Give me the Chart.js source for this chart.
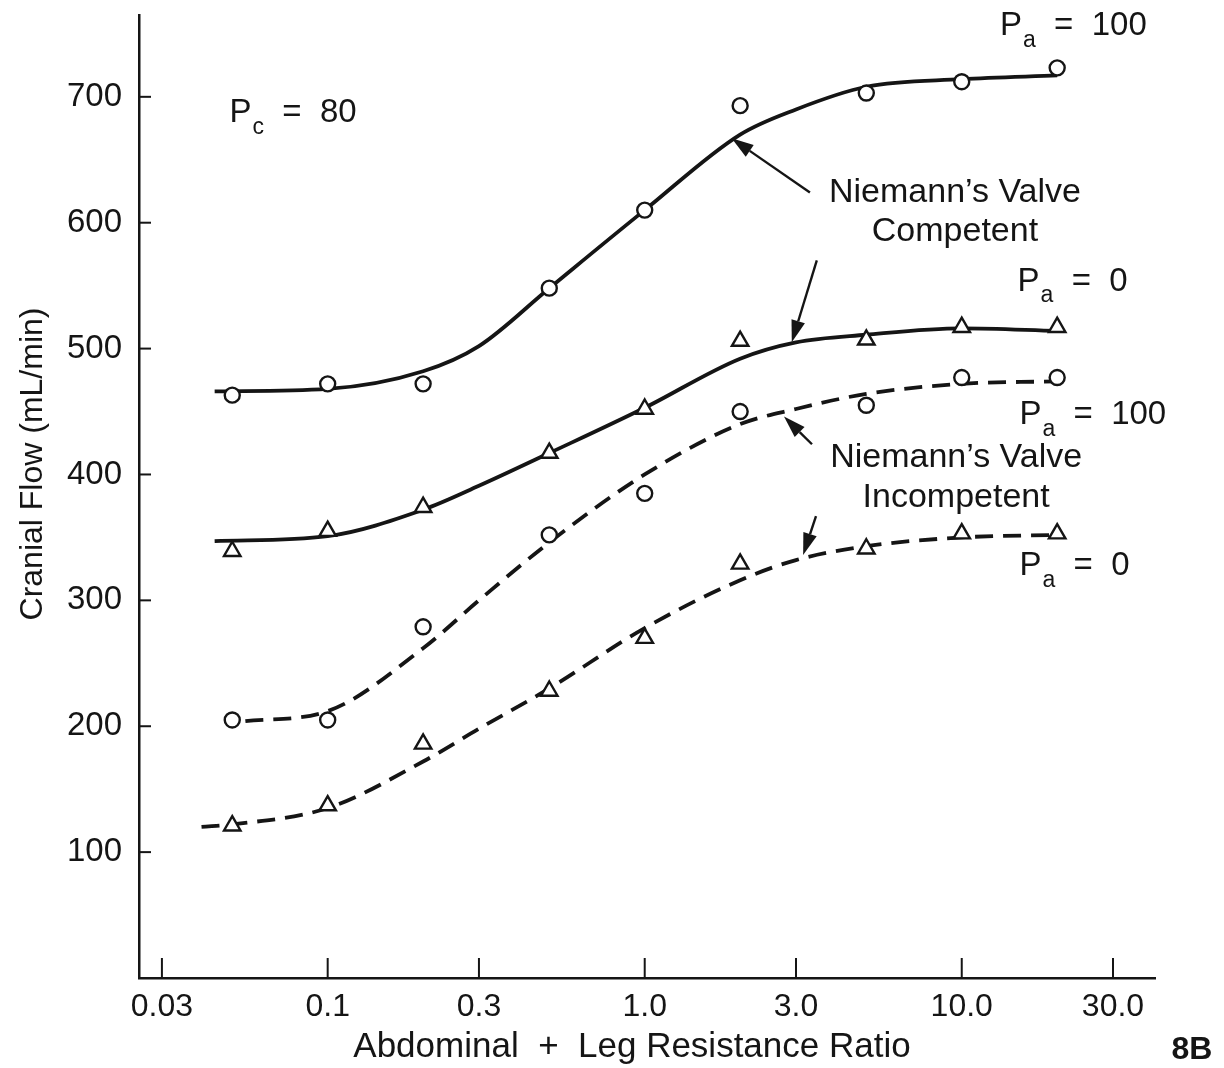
<!DOCTYPE html>
<html>
<head>
<meta charset="utf-8">
<script src="https://cdn.jsdelivr.net/npm/chart.js@4.4.0/dist/chart.umd.min.js"></script>
<style>
  html, body { margin: 0; padding: 0; background: #fff; }
  #wrap { width: 1224px; height: 1068px; }
</style>
</head>
<body>
<div id="wrap"><canvas id="chart" width="1224" height="1068"></canvas></div>
<script>
const ratios = [0.05, 0.1, 0.2, 0.5, 1.0, 2.0, 5.0, 10.0, 20.0];

const competentPa100   = [463, 472, 472, 548, 610, 693, 703, 712, 723];
const competentPa0     = [339, 355, 374, 417, 452, 506, 507, 517, 517];
const incompetentPa100 = [205, 205, 279, 352, 385, 450, 455, 477, 477];
const incompetentPa0   = [121, 137, 186, 228, 270, 329, 341, 353, 353];

// --- Hand-drawn fit curves, read at these ratios ---
const fitRatiosA = [0.044, 0.1, 0.2, 0.3, 0.5, 1.0, 2.0, 3.0, 5.0, 10.0, 20.0];
const fitCompetentPa100 = [466, 468, 482, 502, 548, 610, 670, 690, 708, 714, 717];
const fitCompetentPa0   = [347, 351, 372, 391, 417, 453, 492, 505, 511, 516, 514];

const fitRatiosC = [0.055, 0.1, 0.2, 0.3, 0.5, 1.0, 2.0, 3.0, 5.0, 10.0, 20.0];
const fitIncompetentPa100 = [204, 212, 262, 300, 346, 400, 440, 452, 464, 472, 474];

const fitRatiosD = [0.04, 0.05, 0.1, 0.2, 0.3, 0.5, 1.0, 2.0, 3.0, 5.0, 10.0, 20.0];
const fitIncompetentPa0 = [120, 122, 135, 172, 198, 230, 278, 316, 332, 343, 350, 352];

// --- Axes ---
const xTicks      = [0.03, 0.1, 0.3, 1, 3, 10, 30];
const xTickLabels = ["0.03", "0.1", "0.3", "1.0", "3.0", "10.0", "30.0"];
const yTicks      = [100, 200, 300, 400, 500, 600, 700];
const xTitle = "Abdominal  +  Leg Resistance Ratio";
const yTitle = "Cranial Flow (mL/min)";

const ink  = "#151515";
const face = '"Liberation Sans", Arial, sans-serif';

const toXY = (xs, ys) => xs.map((x, i) => ({ x, y: ys[i] }));

function markers(ys, style) {
  const tri = style === "triangle";
  return {
    data: toXY(ratios, ys),
    showLine: false,
    pointStyle: style,
    pointRadius: tri ? 9.5 : 7.5,
    pointBackgroundColor: "#fff",
    pointBorderColor: ink,
    pointBorderWidth: 2.4,
  };
}

function curve(xs, ys, dashed) {
  return {
    data: toXY(xs, ys),
    showLine: true,
    pointRadius: 0,
    borderColor: ink,
    borderWidth: 3.8,
    borderDash: dashed ? [18, 10] : [],
    cubicInterpolationMode: "monotone",
  };
}

// --- Annotation helpers ---
function pLabel(ctx, x, y, sub, rest) {
  ctx.textBaseline = "middle";
  ctx.textAlign = "left";
  ctx.font = `33px ${face}`;
  ctx.fillText("P", x, y);
  let w = ctx.measureText("P").width;
  ctx.font = `23px ${face}`;
  ctx.fillText(sub, x + w + 1, y + 14);
  w += ctx.measureText(sub).width + 1;
  ctx.font = `33px ${face}`;
  ctx.fillText(rest, x + w, y);
}

function arrow(ctx, x1, y1, x2, y2) {
  const ang = Math.atan2(y2 - y1, x2 - x1);
  const len = 22, half = 7;
  const bx = x2 - len * Math.cos(ang), by = y2 - len * Math.sin(ang);
  ctx.lineWidth = 2.4;
  ctx.beginPath();
  ctx.moveTo(x1, y1);
  ctx.lineTo(bx, by);
  ctx.stroke();
  ctx.beginPath();
  ctx.moveTo(x2, y2);
  ctx.lineTo(bx + half * Math.sin(ang), by - half * Math.cos(ang));
  ctx.lineTo(bx - half * Math.sin(ang), by + half * Math.cos(ang));
  ctx.closePath();
  ctx.fill();
}

const figureDecor = {
  id: "figureDecor",
  afterDraw(chart) {
    const { ctx, chartArea: a, scales: { x, y } } = chart;
    const px = v => x.getPixelForValue(v);
    const py = v => y.getPixelForValue(v);
    ctx.save();
    ctx.strokeStyle = ink;
    ctx.fillStyle = ink;

    // inward tick marks
    ctx.lineWidth = 2;
    xTicks.forEach(v => {
      ctx.beginPath();
      ctx.moveTo(px(v), a.bottom);
      ctx.lineTo(px(v), a.bottom - 20);
      ctx.stroke();
    });
    yTicks.forEach(v => {
      ctx.beginPath();
      ctx.moveTo(a.left, py(v));
      ctx.lineTo(a.left + 12, py(v));
      ctx.stroke();
    });

    // axis titles (sit off-centre in the original)
    ctx.textAlign = "center";
    ctx.textBaseline = "middle";
    ctx.font = `35px ${face}`;
    ctx.fillText(xTitle, 632, 1047);
    ctx.save();
    ctx.translate(33, 464);
    ctx.rotate(-Math.PI / 2);
    ctx.font = `32px ${face}`;
    ctx.fillText(yTitle, 0, 0);
    ctx.restore();

    // pressure labels
    pLabel(ctx, px(0.049), py(687), "c", "  =  80");
    pLabel(ctx, px(13.2), py(756), "a", "  =  100");
    pLabel(ctx, px(15.0), py(553), "a", "  =  0");
    pLabel(ctx, px(15.2), py(447), "a", "  =  100");
    pLabel(ctx, px(15.2), py(327), "a", "  =  0");

    // valve captions
    ctx.font = `34px ${face}`;
    ctx.textAlign = "center";
    ctx.textBaseline = "middle";
    ctx.fillText("Niemann\u2019s Valve", px(9.52), py(624));
    ctx.fillText("Competent", px(9.52), py(593));
    ctx.fillText("Niemann\u2019s Valve", px(9.6), py(413));
    ctx.fillText("Incompetent", px(9.6), py(382));

    // arrows
    arrow(ctx, px(3.32), py(624), px(1.88), py(667));
    arrow(ctx, px(3.49), py(570), px(2.91), py(505));
    arrow(ctx, px(3.37), py(424), px(2.75), py(446));
    arrow(ctx, px(3.47), py(367), px(3.16), py(336));

    // panel tag
    ctx.font = `bold 32px ${face}`;
    ctx.fillText("8B", 1192, 1050);
    ctx.restore();
  }
};

new Chart(document.getElementById("chart"), {
  type: "scatter",
  data: {
    datasets: [
      markers(competentPa100, "circle"),
      markers(competentPa0, "triangle"),
      markers(incompetentPa100, "circle"),
      markers(incompetentPa0, "triangle"),
      curve(fitRatiosA, fitCompetentPa100, false),
      curve(fitRatiosA, fitCompetentPa0, false),
      curve(fitRatiosC, fitIncompetentPa100, true),
      curve(fitRatiosD, fitIncompetentPa0, true),
    ]
  },
  options: {
    responsive: false,
    animation: false,
    devicePixelRatio: 1,
    layout: { padding: { top: 15, right: 69, left: 0, bottom: 0 } },
    plugins: { legend: { display: false }, tooltip: { enabled: false } },
    scales: {
      x: {
        type: "logarithmic",
        min: 0.0254,
        max: 40.7,
        afterFit: s => { s.height = 90; s.paddingLeft = 0; s.paddingRight = 0; },
        afterBuildTicks: s => { s.ticks = xTicks.map(v => ({ value: v })); },
        grid: { display: false, drawTicks: false },
        border: { display: true, color: ink, width: 2.5 },
        ticks: {
          autoSkip: false,
          maxRotation: 0,
          padding: 10,
          color: ink,
          font: { family: face, size: 32 },
          callback: (v, i) => xTickLabels[i],
        },
      },
      y: {
        min: 0,
        max: 765,
        afterFit: s => { s.width = 139; s.paddingTop = 0; s.paddingBottom = 0; },
        afterBuildTicks: s => { s.ticks = yTicks.map(v => ({ value: v })); },
        grid: { display: false, drawTicks: false },
        border: { display: true, color: ink, width: 2.5 },
        ticks: {
          padding: 17,
          color: ink,
          font: { family: face, size: 33 },
        },
      },
    },
  },
  plugins: [figureDecor],
});
</script>
</body>
</html>
